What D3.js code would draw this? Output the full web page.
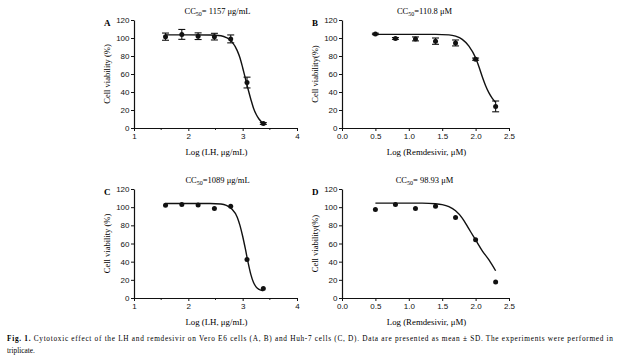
<!DOCTYPE html>
<html>
<head>
<meta charset="utf-8">
<script src="https://cdn.jsdelivr.net/npm/d3@7"></script>
<style>
  html, body { margin: 0; padding: 0; background: #fff; }
  svg { display: block; }
  .tick text { font-family: "Liberation Sans", Arial, sans-serif; font-size: 8px; fill: #111; }
  .serif { font-family: "Liberation Serif", "Times New Roman", serif; fill: #000; }
</style>
</head>
<body>
<svg id="chart" width="620" height="361"></svg>
<script>
// ---- data ----
const lhX  = [1.58, 1.88, 2.18, 2.48, 2.78, 3.08, 3.38];   // Log (LH, µg/mL)
const remX = [0.5, 0.8, 1.1, 1.4, 1.7, 2.0, 2.3];          // Log (Remdesivir, µM)

const aY   = [101.5, 104, 102, 101.5, 99, 50.5, 5];
const aErr = [4, 5.5, 3.7, 3.7, 4.4, 6, 1];
const bY   = [104.5, 99.5, 99, 96.5, 94.5, 76.5, 24];
const bErr = [0.8, 1, 2.2, 3.5, 3.3, 1.2, 6];
const cY   = [102, 103, 102.5, 98.5, 101, 42.5, 10.5];
const dY   = [97.5, 103, 98.5, 101, 88.5, 64, 17.5];

// fitted curves: [x, y]
const aCurve = [[1.58,103.5],[2.4,103.4],[2.6,102.5],[2.7,100.5],[2.8,96],[2.9,86],[2.95,78],[3.0,67],[3.05,55],[3.1,43],[3.15,32],[3.2,22],[3.25,15],[3.3,10],[3.38,5]];
const bCurve = [[0.5,104],[1.4,104],[1.6,103.5],[1.7,102],[1.8,98.5],[1.9,91],[2.0,78],[2.05,68],[2.1,57],[2.15,47],[2.2,39],[2.25,33],[2.3,28.5]];
const cCurve = [[1.58,104],[2.4,104],[2.6,103.5],[2.7,102],[2.8,98],[2.9,89],[2.95,80],[3.0,68],[3.05,54],[3.1,39],[3.15,26],[3.2,17],[3.25,12],[3.3,9.5],[3.38,8]];
const dCurve = [[0.5,104.5],[1.2,104.4],[1.4,103.8],[1.5,102.8],[1.6,100.5],[1.7,96],[1.8,88],[1.9,76],[2.0,64],[2.1,52],[2.2,42],[2.3,30]];

const yTicks   = [0, 20, 40, 60, 80, 100, 120];
const lhTicks  = [1, 2, 3, 4];
const lhMinor  = [1.5, 2.5, 3.5];
const remTicks = [0.0, 0.5, 1.0, 1.5, 2.0, 2.5];

const titles = [
  {letter: "A", cc: "= 1157 μg/mL"},
  {letter: "B", cc: "=110.8 μM"},
  {letter: "C", cc: "=1089 μg/mL"},
  {letter: "D", cc: "= 98.93 μM"}
];
const xLabels = ["Log (LH, μg/mL)", "Log (Remdesivir, μM)", "Log (LH, μg/mL)", "Log (Remdesivir, μM)"];
const yLabels = ["Cell viability (%)", "Cell viability(%)", "Cell viability (%)", "Cell viability(%)"];

// ---- layout ----
const svg = d3.select("#chart");
const panels = [
  {x0:134, x1:297, yb:128, yt:20,  dom:[1,4],   xv:lhX,  yv:aY, err:aErr, curve:aCurve, ticks:lhTicks, minor:lhMinor, fmt:d3.format("d")},
  {x0:342, x1:509, yb:128, yt:20,  dom:[0,2.5], xv:remX, yv:bY, err:bErr, curve:bCurve, ticks:remTicks, minor:[], fmt:d3.format(".1f")},
  {x0:134, x1:297, yb:298, yt:189, dom:[1,4],   xv:lhX,  yv:cY, err:null, curve:cCurve, ticks:lhTicks, minor:lhMinor, fmt:d3.format("d")},
  {x0:342, x1:509, yb:298, yt:189, dom:[0,2.5], xv:remX, yv:dY, err:null, curve:dCurve, ticks:remTicks, minor:[], fmt:d3.format(".1f")}
];

panels.forEach((p, i) => {
  const x = d3.scaleLinear().domain(p.dom).range([p.x0, p.x1]);
  const y = d3.scaleLinear().domain([0, 120]).range([p.yb, p.yt]);
  const g = svg.append("g");

  // axes
  const ya = g.append("g").attr("transform", `translate(${p.x0},0)`)
    .call(d3.axisLeft(y).tickValues(yTicks).tickSize(3).tickSizeOuter(0).tickPadding(1.5).tickFormat(d3.format("d")));
  const xa = g.append("g").attr("transform", `translate(0,${p.yb})`)
    .call(d3.axisBottom(x).tickValues(p.ticks).tickSize(3).tickSizeOuter(0).tickPadding(2).tickFormat(p.fmt));
  [ya, xa].forEach(a => {
    a.select(".domain").attr("stroke", "#111").attr("stroke-width", 1.2);
    a.selectAll(".tick line").attr("stroke", "#111").attr("stroke-width", 1);
  });
  g.selectAll(".minor").data(p.minor).join("line")
    .attr("x1", d => x(d)).attr("x2", d => x(d))
    .attr("y1", p.yb).attr("y2", p.yb + 2)
    .attr("stroke", "#111").attr("stroke-width", 0.9);

  // curve
  g.append("path").datum(p.curve)
    .attr("fill", "none").attr("stroke", "#111").attr("stroke-width", 1.4)
    .attr("d", d3.line().x(d => x(d[0])).y(d => y(d[1])).curve(d3.curveMonotoneX));

  // error bars
  if (p.err) {
    const eb = g.append("g").attr("stroke", "#111").attr("stroke-width", 1.1);
    p.xv.forEach((xv, k) => {
      const e = p.err[k], cx = x(xv);
      eb.append("line").attr("x1", cx).attr("x2", cx).attr("y1", y(p.yv[k] - e)).attr("y2", y(p.yv[k] + e));
      [p.yv[k] - e, p.yv[k] + e].forEach(v =>
        eb.append("line").attr("x1", cx - 3.5).attr("x2", cx + 3.5).attr("y1", y(v)).attr("y2", y(v)));
    });
  }

  // points
  g.selectAll(".pt").data(p.xv).join("circle")
    .attr("cx", d => x(d)).attr("cy", (d, k) => y(p.yv[k])).attr("r", 2.5).attr("fill", "#111");

  // title
  const cx = (p.x0 + p.x1) / 2 + (i % 2 === 0 ? 0 : -3);
  const t = g.append("text").attr("class", "serif").attr("x", cx + 2).attr("y", p.yt - 6.5)
    .attr("text-anchor", "middle").style("font-size", "8.5px");
  t.append("tspan").text("CC");
  t.append("tspan").attr("dy", 2).style("font-size", "6px").text("50");
  t.append("tspan").attr("dy", -2).text(titles[i].cc);

  // panel letter
  g.append("text").attr("class", "serif").attr("x", p.x0 - 30).attr("y", p.yt + 5.5)
    .attr("text-anchor", "start").style("font-size", "9px").style("font-weight", "bold").text(titles[i].letter);

  // axis labels
  g.append("text").attr("class", "serif").attr("x", (p.x0 + p.x1) / 2 + 1).attr("y", p.yb + 27)
    .attr("text-anchor", "middle").style("font-size", "8.8px").text(xLabels[i]);
  g.append("text").attr("class", "serif")
    .attr("transform", `translate(${p.x0 - 24},${(p.yb + p.yt) / 2}) rotate(-90)`)
    .attr("text-anchor", "middle").style("font-size", "8.5px").text(yLabels[i]);
});

// caption
const cap = svg.append("text").attr("class", "serif").attr("x", 7).attr("y", 341)
  .style("font-size", "7.3px").attr("textLength", 606).attr("lengthAdjust", "spacing");
cap.append("tspan").style("font-weight", "bold").text("Fig. 1.");
cap.append("tspan").text(" Cytotoxic effect of the LH and remdesivir on Vero E6 cells (A, B) and Huh-7 cells (C, D). Data are presented as mean ± SD. The experiments were performed in");
svg.append("text").attr("class", "serif").attr("x", 7).attr("y", 353)
  .style("font-size", "7.3px").text("triplicate.");
</script>
</body>
</html>
